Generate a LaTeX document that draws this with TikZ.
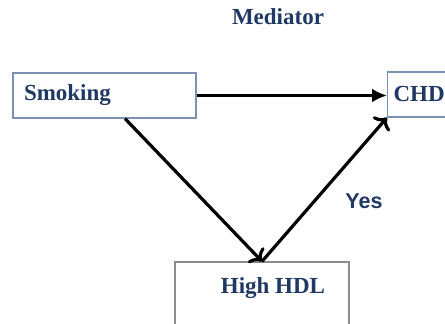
\documentclass[tikz,border=0pt]{standalone}
\usepackage{fontspec}
\setmainfont{Liberation Serif}
\newfontfamily\yesfont{Liberation Sans}
\usetikzlibrary{positioning,arrows.meta}
\definecolor{navy}{RGB}{31,56,100}
\definecolor{boxblue}{RGB}{120,145,180}
\definecolor{boxgray}{RGB}{140,140,140}
\tikzstyle{block} = [rectangle, draw=boxblue, line width=1.2pt, fill=white,
    font=\fontsize{23}{25}\selectfont\bfseries, text=navy]
\tikzstyle{lbl} = [font=\fontsize{23}{25}\selectfont\bfseries, text=navy, inner sep=0pt]
\tikzstyle{line} = [draw, line width=3.2pt, black]

\begin{document}
\begin{tikzpicture}[x=1pt, y=1pt]
    \useasboundingbox (0,0) rectangle (445,324);
    % Place nodes
    \node [lbl] (med) at (278,307) {Mediator};
    \node [block, minimum width=183, minimum height=45, text width=161,
        inner xsep=11pt, align=left] (sm) at (104.5,228.5) {Smoking};
    \node [block, minimum width=62, minimum height=45, text width=56,
        inner xsep=6pt, align=left, anchor=west] (chd) at (387,229.5) {CHD};
    \node [block, draw=boxgray, minimum width=174, minimum height=66] (hdl) at (262,29) {};
    \node [lbl] (hdltxt) at ([xshift=11pt,yshift=7pt]hdl.center) {High HDL};
    \node [lbl, font=\yesfont\fontsize{21.5}{23}\selectfont\bfseries] (yes) at (364,123) {Yes};
    \coordinate (smout) at ([xshift=20.5pt]sm.south);
    % Draw edges
    \path [line, -{Latex[length=15pt,width=14pt]}] (sm.east) -- (sm.east -| chd.west);
    \path [line, -{To[length=10pt,width=22pt]}] (smout) -- (hdl.north);
    \path [line, -{To[length=10pt,width=22pt]}] (hdl.north) -- (chd.south west);
\end{tikzpicture}
\end{document}
